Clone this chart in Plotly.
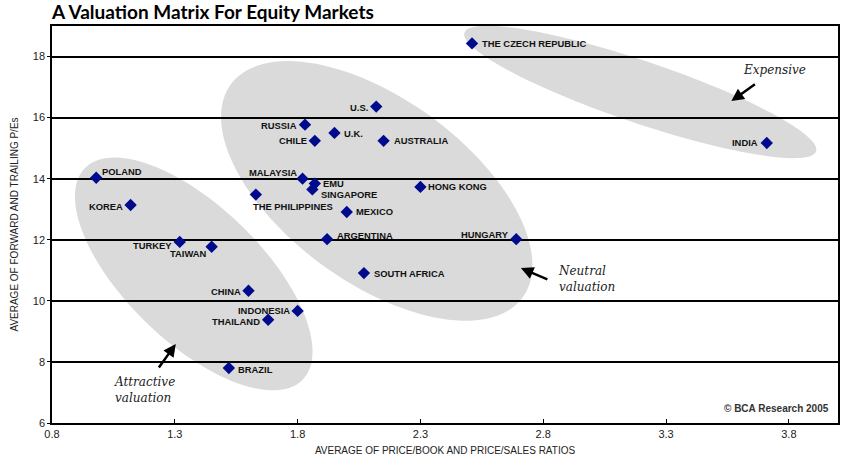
import numpy as np
import plotly.graph_objects as go

# ---------------- data ----------------
countries = ["THE CZECH REPUBLIC", "INDIA", "U.S.", "RUSSIA", "U.K.", "CHILE", "AUSTRALIA",
             "MALAYSIA", "EMU", "SINGAPORE", "THE PHILIPPINES", "HONG KONG", "MEXICO",
             "ARGENTINA", "HUNGARY", "SOUTH AFRICA", "POLAND", "KOREA", "TURKEY", "TAIWAN",
             "CHINA", "INDONESIA", "THAILAND", "BRAZIL"]
price_ratio = [2.51, 3.71, 2.12, 1.83, 1.95, 1.87, 2.15,
               1.82, 1.87, 1.86, 1.63, 2.30, 2.00,
               1.92, 2.69, 2.07, 0.98, 1.12, 1.32, 1.45,
               1.60, 1.80, 1.68, 1.52]
pe_ratio = [18.43, 15.17, 16.36, 15.77, 15.50, 15.24, 15.24,
            14.00, 13.84, 13.65, 13.48, 13.73, 12.91,
            12.02, 12.02, 10.91, 14.03, 13.14, 11.93, 11.77,
            10.33, 9.67, 9.38, 7.80]
x_ticks = [0.8, 1.3, 1.8, 2.3, 2.8, 3.3, 3.8]
y_ticks = [6, 8, 10, 12, 14, 16, 18]

# ---------------- layout geometry ----------------
W, H = 848, 472
ML, MR, MT, MB = 52, 8, 26, 49
XR = [0.8, 4.0]
YR = [6, 19]
SX = (W - ML - MR) / (XR[1] - XR[0])   # px per x unit
SY = (H - MT - MB) / (YR[1] - YR[0])   # px per y unit

# label placement: (side, xshift, yshift)
place = {
    "THE CZECH REPUBLIC": ("left", 9, 0), "INDIA": ("right", -8, 0),
    "U.S.": ("right", -7, -1), "RUSSIA": ("right", -7, -1), "U.K.": ("left", 9, -1),
    "CHILE": ("right", -7, 0), "AUSTRALIA": ("left", 9, 0), "MALAYSIA": ("right", -5, 6),
    "EMU": ("left", 7, 0), "SINGAPORE": ("left", 8, -5), "THE PHILIPPINES": ("left", -4, -12),
    "HONG KONG": ("left", 7, 0), "MEXICO": ("left", 8, 0), "ARGENTINA": ("left", 9, 4),
    "HUNGARY": ("right", -6, 5), "SOUTH AFRICA": ("left", 9, 0), "POLAND": ("left", 5, 6),
    "KOREA": ("right", -7, -2), "TURKEY": ("right", -7, -4), "TAIWAN": ("right", -4, -7),
    "CHINA": ("right", -7, -1), "INDONESIA": ("right", -7, 0), "THAILAND": ("right", -7, -2),
    "BRAZIL": ("left", 8, -1),
}

fig = go.Figure()

# ---------------- ellipses (rotated, defined in pixel terms) ----------------
def ellipse_path(cx, cy, a_px, b_px, theta_deg, n=120):
    th = np.radians(theta_deg)
    t = np.linspace(0, 2 * np.pi, n)
    dx = a_px * np.cos(t) * np.cos(th) - b_px * np.sin(t) * np.sin(th)
    dy = a_px * np.cos(t) * np.sin(th) + b_px * np.sin(t) * np.cos(th)
    xs = cx + dx / SX
    ys = cy - dy / SY
    p = "M {:.4f},{:.4f} ".format(xs[0], ys[0])
    p += " ".join("L {:.4f},{:.4f}".format(x, y) for x, y in zip(xs[1:], ys[1:]))
    return p + " Z"

ellipses = [
    (1.377, 10.88, 152, 68, 44),
    (2.122, 13.60, 181, 92, 36),
    (3.195, 16.84, 186, 31, 18.6),
]
shapes = []
for cx, cy, a, b, th in ellipses:
    shapes.append(dict(type="path", path=ellipse_path(cx, cy, a, b, th),
                       xref="x", yref="y", fillcolor="#dadada", line=dict(width=0),
                       layer="below"))

fig.add_trace(go.Scatter(
    x=price_ratio, y=pe_ratio, mode="markers",
    marker=dict(symbol="diamond", size=9.5, color="#000a8c"),
    hoverinfo="text", text=countries, showlegend=False, cliponaxis=False))

annotations = []
for name, xv, yv in zip(countries, price_ratio, pe_ratio):
    side, xs, ys = place[name]
    annotations.append(dict(x=xv, y=yv, text="<b>" + name + "</b>", showarrow=False,
                            xanchor=side, yanchor="middle", xshift=xs, yshift=ys,
                            font=dict(family="Liberation Sans, Arial", size=9.4, color="#111"),
                            borderpad=0))

hand = dict(family="DejaVu Serif, serif", size=12, color="#222")
annotations += [
    dict(x=3.74, y=17.56, text="<i>Expensive</i>", showarrow=False, font=hand),
    dict(x=2.851, y=10.72, text="<i>Neutral<br>valuation</i>", showarrow=False,
         xanchor="left", align="left", font=hand),
    dict(x=1.044, y=7.08, text="<i>Attractive<br>valuation</i>", showarrow=False,
         xanchor="left", align="left", font=hand),
    dict(x=3.566, y=16.54, ax=25, ay=-18, text="", showarrow=True, arrowhead=2,
         arrowsize=1, arrowwidth=2.5, arrowcolor="black"),
    dict(x=2.709, y=11.075, ax=28, ay=12, text="", showarrow=True, arrowhead=2,
         arrowsize=1, arrowwidth=2.5, arrowcolor="black"),
    dict(x=1.304, y=8.587, ax=-18, ay=25, text="", showarrow=True, arrowhead=2,
         arrowsize=1, arrowwidth=2.5, arrowcolor="black"),
    dict(x=3.972, y=6.49, text="<b>© BCA Research 2005</b>", showarrow=False, xanchor="right",
         font=dict(family="Liberation Sans, Arial", size=10, color="#333")),
]

axis_font = "Liberation Sans Narrow, Arial Narrow, Liberation Sans, Arial"
fig.update_layout(
    width=W, height=H,
    margin=dict(l=ML, r=MR, t=MT, b=MB),
    paper_bgcolor="white", plot_bgcolor="white",
    shapes=shapes, annotations=annotations,
    title=dict(text="<b>A Valuation Matrix For Equity Markets</b>", x=ML / W, xanchor="left",
               y=1 - 12 / H, yanchor="middle",
               font=dict(family="Lato, Open Sans, sans-serif", size=19, color="black")),
    xaxis=dict(range=XR, tickvals=x_ticks, ticktext=[f"{v:.1f}" for v in x_ticks],
               showgrid=False, zeroline=False, showline=True, mirror=True,
               linecolor="black", linewidth=1.5, ticks="inside", ticklen=4,
               tickcolor="black", tickfont=dict(family=axis_font, size=11, color="#222"),
               title=dict(text="AVERAGE OF PRICE/BOOK AND PRICE/SALES RATIOS",
                          font=dict(family=axis_font, size=10, color="#222"), standoff=8)),
    yaxis=dict(range=YR, tickvals=y_ticks, showgrid=True, gridcolor="black", gridwidth=1.5,
               zeroline=False, showline=True, mirror=True, linecolor="black", linewidth=1.5,
               ticks="outside", ticklen=3, tickcolor="black",
               tickfont=dict(family=axis_font, size=11, color="#222"),
               title=dict(text="AVERAGE OF FORWARD AND TRAILING P/Es",
                          font=dict(family=axis_font, size=10, color="#222"), standoff=12)),
)

fig.write_html("out.html")
